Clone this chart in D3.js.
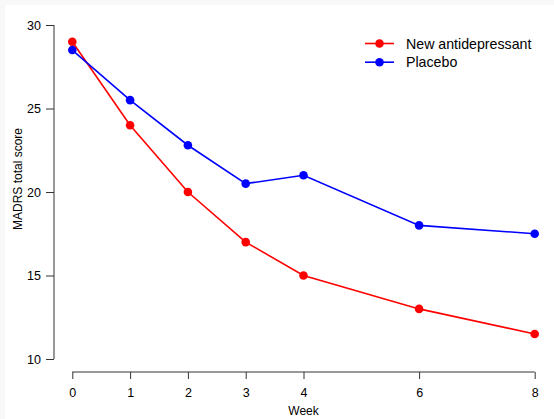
<!DOCTYPE html>
<html lang="en">
<head>
<meta charset="utf-8">
<script src="https://d3js.org/d3.v7.min.js"></script>
<style>
  body { margin: 0; background: #f8f8f8; }
  svg { display: block; font-family: "Liberation Sans", Arial, sans-serif; }
</style>
</head>
<body>
<svg id="chart" width="554" height="419"></svg>
<script>
// data
const weeks = [0, 1, 2, 3, 4, 6, 8];
const drugScores = [29, 24, 20, 17, 15, 13, 11.5];
const placeboScores = [28.5, 25.5, 22.8, 20.5, 21, 18, 17.5];
const yTicks = [10, 15, 20, 25, 30];
const seriesNames = ["New antidepressant", "Placebo"];
const seriesColors = ["#ff0000", "#0000ff"];

const svg = d3.select("#chart");

// white plotting area, thin grey frame at top/left
svg.append("rect").attr("x", 5).attr("y", 5).attr("width", 549).attr("height", 414).attr("fill", "white");

const x = d3.scaleLinear().domain([0, 8]).range([72.3, 534.7]);
const y = d3.scaleLinear().domain([10, 30]).range([359, 25]);

// y axis (R style, offset from the plot)
const yAxis = svg.append("g").attr("transform", "translate(54,0)")
    .call(d3.axisLeft(y).tickValues(yTicks).tickSize(8).tickPadding(5));
// x axis
const xAxis = svg.append("g").attr("transform", "translate(0,372)")
    .call(d3.axisBottom(x).tickValues(weeks).tickSize(7).tickPadding(9));

[yAxis, xAxis].forEach(g => {
  g.select(".domain").attr("stroke", "#333").attr("stroke-width", 1);
  g.selectAll(".tick line").attr("stroke", "#333");
  g.selectAll(".tick text").attr("font-size", 12.5).attr("fill", "#000")
    .attr("font-family", "Liberation Sans, Arial, sans-serif");
});
// R draws ticks at the axis ends only, no overhang
yAxis.select(".domain").attr("d", "M0," + y(30) + "V" + y(10));
xAxis.select(".domain").attr("d", "M" + x(0) + ",0H" + x(8));

svg.append("text").attr("x", x(4)).attr("y", 415).attr("text-anchor", "middle")
    .attr("font-size", 12).attr("fill", "#000").text("Week");
svg.append("text").attr("transform", "translate(22,179) rotate(-90)")
    .attr("text-anchor", "middle").attr("font-size", 12).attr("fill", "#000")
    .text("MADRS total score");

const line = d3.line().x((d, i) => x(weeks[i])).y(d => y(d));
[drugScores, placeboScores].forEach((vals, k) => {
  svg.append("path").datum(vals).attr("d", line)
      .attr("fill", "none").attr("stroke", seriesColors[k]).attr("stroke-width", 1.6);
  svg.selectAll(null).data(vals).join("circle")
      .attr("cx", (d, i) => x(weeks[i])).attr("cy", d => y(d))
      .attr("r", 4.3).attr("fill", seriesColors[k]);
});

// legend
const legend = svg.append("g");
seriesNames.forEach((name, k) => {
  const ly = 43.5 + k * 18.7;
  legend.append("line").attr("x1", 365).attr("x2", 394).attr("y1", ly).attr("y2", ly)
      .attr("stroke", seriesColors[k]).attr("stroke-width", 1.6);
  legend.append("circle").attr("cx", 379.5).attr("cy", ly).attr("r", 4.3).attr("fill", seriesColors[k]);
  legend.append("text").attr("x", 406).attr("y", ly + 5).attr("font-size", 14.2)
      .attr("fill", "#000").text(name);
});
</script>
</body>
</html>
